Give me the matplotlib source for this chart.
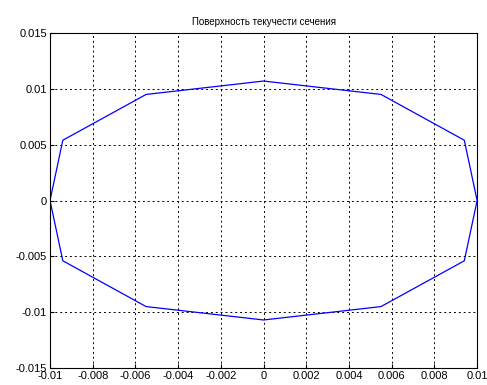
import matplotlib
matplotlib.use('Agg')
import matplotlib.pyplot as plt

# yield surface points (closed polygon)
x = [-0.01, -0.0094, -0.0055, 0.0, 0.0055, 0.0094, 0.01,
     0.0094, 0.0055, 0.0, -0.0055, -0.0094, -0.01]
y = [0.0, 0.0054, 0.0095, 0.0107, 0.0095, 0.0054, 0.0,
     -0.0054, -0.0095, -0.0107, -0.0095, -0.0054, 0.0]

x_ticks = [-0.01, -0.008, -0.006, -0.004, -0.002, 0, 0.002, 0.004, 0.006, 0.008, 0.01]
x_labels = ['-0.01', '-0.008', '-0.006', '-0.004', '-0.002', '0', '0.002', '0.004', '0.006', '0.008', '0.01']
y_ticks = [-0.015, -0.01, -0.005, 0, 0.005, 0.01, 0.015]
y_labels = ['-0.015', '-0.01', '-0.005', '0', '0.005', '0.01', '0.015']

plt.rcParams['font.family'] = ['Liberation Sans', 'DejaVu Sans']

fig = plt.figure(figsize=(4.87, 3.85), dpi=100)
ax = fig.add_axes([0.1027, 0.0442, 0.877, 0.870])
ax.plot(x, y, color='#0000ff', linewidth=0.9)

ax.set_xlim(-0.01, 0.01)
ax.set_ylim(-0.015, 0.015)
ax.set_xticks(x_ticks)
ax.set_xticklabels(x_labels)
ax.set_yticks(y_ticks)
ax.set_yticklabels(y_labels)
ax.tick_params(direction='in', length=3, labelsize=8, pad=2)
ax.grid(True, color='black', linestyle=(0, (2, 3)), linewidth=0.7)
for s in ax.spines.values():
    s.set_linewidth(0.8)
ax.set_title('Поверхность текучести сечения', fontsize=7, pad=6)

fig.savefig('out.png', dpi=100)
